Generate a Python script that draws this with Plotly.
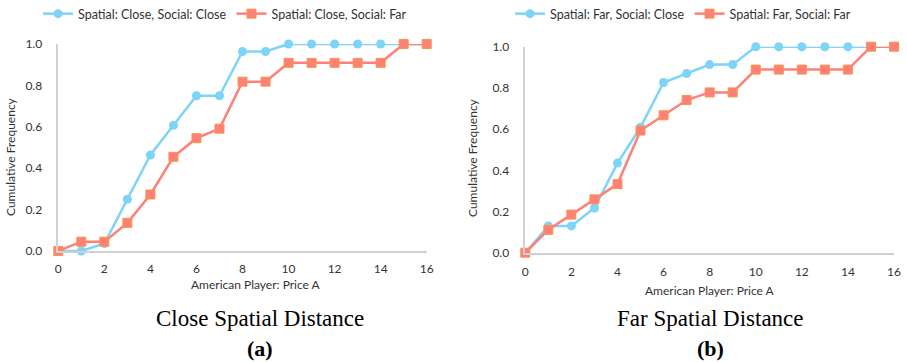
import plotly.graph_objects as go

price = list(range(0, 17))
x_ticks = list(range(0, 17, 2))
y_ticks = [0.0, 0.2, 0.4, 0.6, 0.8, 1.0]

close_social_close = [0.0, 0.0, 0.036, 0.25, 0.464, 0.607, 0.75, 0.75, 0.964, 0.964,
                      1.0, 1.0, 1.0, 1.0, 1.0, 1.0, 1.0]
close_social_far = [0.0, 0.045, 0.045, 0.136, 0.273, 0.455, 0.545, 0.591, 0.818, 0.818,
                    0.909, 0.909, 0.909, 0.909, 0.909, 1.0, 1.0]
far_social_close = [0.0, 0.130, 0.130, 0.217, 0.435, 0.609, 0.826, 0.870, 0.913, 0.913,
                    1.0, 1.0, 1.0, 1.0, 1.0, 1.0, 1.0]
far_social_far = [0.0, 0.111, 0.185, 0.259, 0.333, 0.593, 0.667, 0.741, 0.778, 0.778,
                  0.889, 0.889, 0.889, 0.889, 0.889, 1.0, 1.0]

names = ["Spatial: Close, Social: Close", "Spatial: Close, Social: Far",
         "Spatial: Far, Social: Close", "Spatial: Far, Social: Far"]
captions = ["Close Spatial Distance", "Far Spatial Distance"]
labels = ["(a)", "(b)"]
x_title = "American Player: Price A"
y_title = "Cumulative Frequency"

BLUE = "#7DD3F8"
RED = "#FF7F79"
FONT = "Lato"
TXT = "#333333"
W, H = 907, 362

fig = go.Figure()

def add_pair(yblue, yred, nb, nr, xa, ya, leg):
    fig.add_trace(go.Scatter(x=price, y=yblue, name=nb, mode="lines+markers",
                             line=dict(color=BLUE, width=2.5),
                             marker=dict(symbol="circle", size=9, color=BLUE),
                             xaxis=xa, yaxis=ya, legend=leg, cliponaxis=False))
    fig.add_trace(go.Scatter(x=price, y=yred, name=nr, mode="lines+markers",
                             line=dict(color=RED, width=2.5),
                             marker=dict(symbol="square", size=9, color=RED,
                                         line=dict(color="#F79646", width=1)),
                             xaxis=xa, yaxis=ya, legend=leg, cliponaxis=False))

add_pair(close_social_close, close_social_far, names[0], names[1], "x", "y", "legend")
add_pair(far_social_close, far_social_far, names[2], names[3], "x2", "y2", "legend2")

def px(v):
    return v / W

def py(v):
    return 1 - v / H

axis_common = dict(showgrid=False, zeroline=False, showline=True, linecolor="#D0D0D0",
                   linewidth=1.5, ticks="", automargin=False,
                   tickfont=dict(family=FONT, size=12, color=TXT))

fig.update_layout(
    width=W, height=H, margin=dict(l=0, r=0, t=0, b=0, autoexpand=False),
    plot_bgcolor="white", paper_bgcolor="white",
    xaxis=dict(domain=[px(58.3), px(426.7)], range=[0, 16], tickvals=x_ticks,
               anchor="y", ticklabelstandoff=6, **axis_common),
    yaxis=dict(domain=[py(251), py(44)], range=[0, 1], tickvals=y_ticks, tickformat=".1f",
               anchor="x", ticklabelstandoff=12, **axis_common),
    xaxis2=dict(domain=[px(525.3), px(894)], range=[0, 16], tickvals=x_ticks,
                anchor="y2", ticklabelstandoff=7, **axis_common),
    yaxis2=dict(domain=[py(252.7), py(46.7)], range=[0, 1], tickvals=y_ticks, tickformat=".1f",
                anchor="x2", ticklabelstandoff=12, **axis_common),
    legend=dict(orientation="h", x=px(38), y=py(14), xanchor="left", yanchor="middle",
                font=dict(family=FONT, size=12.5, color=TXT), bgcolor="rgba(0,0,0,0)"),
    legend2=dict(orientation="h", x=px(510), y=py(14), xanchor="left", yanchor="middle",
                 font=dict(family=FONT, size=12.5, color=TXT), bgcolor="rgba(0,0,0,0)"),
    showlegend=True,
)

ann = []
for cx, ty in [(256, 284), (710, 290)]:
    ann.append(dict(text=x_title, x=px(cx), y=py(ty), xref="paper", yref="paper",
                    showarrow=False, xanchor="center", yanchor="middle",
                    font=dict(family=FONT, size=12, color=TXT)))
for cx, cy in [(11, 157), (472, 158)]:
    ann.append(dict(text=y_title, x=px(cx), y=py(cy), xref="paper", yref="paper",
                    showarrow=False, xanchor="center", yanchor="middle", textangle=-90,
                    font=dict(family=FONT, size=12, color=TXT)))
for cx, cap, lab in [(260, captions[0], labels[0]), (710, captions[1], labels[1])]:
    ann.append(dict(text=cap, x=px(cx), y=py(318), xref="paper", yref="paper",
                    showarrow=False, xanchor="center", yanchor="middle",
                    font=dict(family="Liberation Serif", size=23, color="black")))
    ann.append(dict(text="<b>" + lab + "</b>", x=px(cx), y=py(348), xref="paper", yref="paper",
                    showarrow=False, xanchor="center", yanchor="middle",
                    font=dict(family="Liberation Serif", size=22, color="black")))
fig.update_layout(annotations=ann)

fig.write_html("out.html", config={"displayModeBar": False},
               post_script="document.body.style.margin='0';document.body.style.overflow='hidden';")
